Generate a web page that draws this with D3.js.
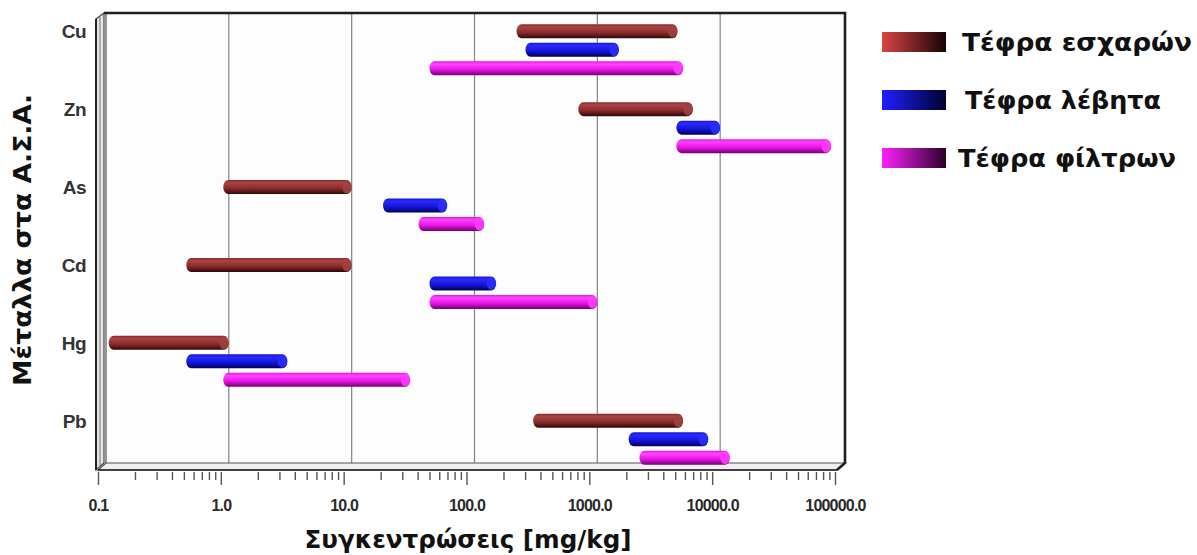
<!DOCTYPE html>
<html>
<head>
<meta charset="utf-8">
<script src="https://cdn.jsdelivr.net/npm/d3@7"></script>
<style>
  body { margin: 0; background: #fff; }
  svg { display: block; }
</style>
</head>
<body>
<script>
const metals = ["Cu", "Zn", "As", "Cd", "Hg", "Pb"];
const series = ["Τέφρα εσχαρών", "Τέφρα λέβητα", "Τέφρα φίλτρων"];

// [min, max] mg/kg per metal
const grateAsh  = [[220, 4500], [700, 6000], [0.9, 10], [0.45, 10], [0.105, 1], [300, 5000]];
const boilerAsh = [[260, 1500], [4400, 10000], [18, 60], [43, 150], [0.45, 3], [1800, 8000]];
const filterAsh = [[43, 5000], [4400, 80000], [35, 120], [43, 1000], [0.9, 30], [2200, 12000]];

const tickValues = [0.1, 1, 10, 100, 1000, 10000, 100000];

const W = 1197, H = 555;
const depth = {dx: 8, dy: 7};
const plot = {left: 98, right: 837, top: 13, bottom: 470};

const svg = d3.select("body").append("svg").attr("width", W).attr("height", H);
const defs = svg.append("defs");

const colors = [
  {top: "#a84444", mid: "#8a2a2a", bot: "#2e0808", cap: "#a04040", l0: "#dc4444", l1: "#140404"},
  {top: "#2a2aff", mid: "#1414d8", bot: "#00005a", cap: "#2c2cff", l0: "#2020ff", l1: "#000030"},
  {top: "#ff44ff", mid: "#e614e6", bot: "#700070", cap: "#ff3cff", l0: "#ff20ff", l1: "#2a0028"}
];

colors.forEach((c, i) => {
  const g = defs.append("linearGradient").attr("id", "bar" + i)
    .attr("x1", 0).attr("y1", 0).attr("x2", 0).attr("y2", 1);
  g.append("stop").attr("offset", "0").attr("stop-color", c.mid);
  g.append("stop").attr("offset", "0.2").attr("stop-color", c.top);
  g.append("stop").attr("offset", "0.6").attr("stop-color", c.mid);
  g.append("stop").attr("offset", "1").attr("stop-color", c.bot);
  const l = defs.append("linearGradient").attr("id", "leg" + i)
    .attr("x1", 0).attr("y1", 0).attr("x2", 1).attr("y2", 0);
  l.append("stop").attr("offset", "0").attr("stop-color", c.l0);
  l.append("stop").attr("offset", "1").attr("stop-color", c.l1);
});

// front scale (axis) and back-plane scale (bars, grid)
const xFront = d3.scaleLog().domain([0.1, 100000]).range([plot.left, plot.right - depth.dx + 6]);
const xBack = d3.scaleLog().domain([0.1, 100000]).range([plot.left + depth.dx, plot.right + 6]);

const backTop = plot.top, backBottom = plot.bottom - depth.dy;
const backLeft = plot.left + depth.dx, backRight = plot.right + 8;

const y = d3.scaleBand().domain(metals).range([12, 12 + 6 * 77.9]);
const ySub = d3.scaleBand().domain(series).range([10, 65.5]);
const barH = 14;

// back wall
svg.append("rect").attr("x", backLeft).attr("y", backTop)
  .attr("width", backRight - backLeft).attr("height", backBottom - backTop)
  .attr("fill", "#fdfdfd");

// grid on back wall + floor diagonals
const grid = svg.append("g").attr("stroke", "#858585").attr("stroke-width", 1.2).attr("fill", "none");
tickValues.slice(1, -1).forEach(v => {
  grid.append("path")
    .attr("d", `M${xBack(v)},${backTop}V${backBottom}L${xFront(v)},${plot.bottom}`);
});

// floor slab
svg.append("path")
  .attr("d", `M${backLeft},${backBottom}H${backRight}L${backRight - depth.dx},${plot.bottom}H${plot.left}Z`)
  .attr("fill", "#efefef").attr("stroke", "#555").attr("stroke-width", 1.2);
svg.append("line")
  .attr("x1", plot.left).attr("x2", backRight - depth.dx)
  .attr("y1", plot.bottom).attr("y2", plot.bottom)
  .attr("stroke", "#222").attr("stroke-width", 1.6);

// left wall slab
svg.append("path")
  .attr("d", `M${plot.left - 2},${backTop + 6}L${backLeft - 2},${backTop}V${backBottom}L${plot.left - 2},${plot.bottom}Z`)
  .attr("fill", "#e6e6e6").attr("stroke", "#444").attr("stroke-width", 1.2);
svg.append("line")
  .attr("x1", plot.left - 2).attr("x2", plot.left - 2)
  .attr("y1", backTop + 6).attr("y2", plot.bottom)
  .attr("stroke", "#222").attr("stroke-width", 2);
svg.append("line")
  .attr("x1", plot.left + 2).attr("x2", plot.left + 2)
  .attr("y1", backTop + 4).attr("y2", plot.bottom - 2)
  .attr("stroke", "#777").attr("stroke-width", 1);
svg.append("line")
  .attr("x1", backLeft).attr("x2", backLeft)
  .attr("y1", backTop).attr("y2", backBottom)
  .attr("stroke", "#555").attr("stroke-width", 1.2);

// top and right edges of the box
svg.append("path")
  .attr("d", `M${backLeft - 2},${backTop}H${backRight}V${backBottom}L${backRight - depth.dx},${plot.bottom}`)
  .attr("fill", "none").attr("stroke", "#1e1e1e").attr("stroke-width", 2.6);

// bars
const allSeries = [grateAsh, boilerAsh, filterAsh];
const bars = svg.append("g");
allSeries.forEach((vals, si) => {
  const rows = metals.map((m, i) => ({m, lo: vals[i][0], hi: vals[i][1]}));
  const g = bars.append("g");
  g.selectAll("rect").data(rows).join("rect")
    .attr("x", d => xBack(d.lo))
    .attr("y", d => y(d.m) + ySub(series[si]) + (ySub.bandwidth() - barH) / 2)
    .attr("width", d => xBack(d.hi) - xBack(d.lo))
    .attr("height", barH)
    .attr("rx", 5).attr("ry", barH / 2)
    .attr("fill", `url(#bar${si})`);
  g.selectAll("ellipse").data(rows).join("ellipse")
    .attr("cx", d => xBack(d.hi) - 5)
    .attr("cy", d => y(d.m) + ySub(series[si]) + ySub.bandwidth() / 2)
    .attr("rx", 4.5).attr("ry", barH / 2 - 0.5)
    .attr("fill", colors[si].cap).attr("opacity", 0.9);
});

// x axis: minor and major ticks
const minor = [];
for (let e = -1; e < 5; e++) for (let k = 2; k <= 9; k++) minor.push(k * Math.pow(10, e));

svg.append("g").attr("transform", `translate(0,${plot.bottom + 2})`)
  .call(d3.axisBottom(xFront).tickValues(minor).tickSize(8).tickFormat(""))
  .call(g => g.select(".domain").remove())
  .call(g => g.selectAll("line").attr("stroke", "#555").attr("stroke-width", 1.4));

svg.append("g").attr("transform", `translate(0,${plot.bottom + 2})`)
  .call(d3.axisBottom(xFront).tickValues(tickValues).tickSize(13).tickPadding(15)
    .tickFormat(d3.format(".1f")))
  .call(g => g.select(".domain").remove())
  .call(g => g.selectAll("line").attr("stroke", "#555").attr("stroke-width", 1.4))
  .call(g => g.selectAll("text")
    .attr("font-family", "'Liberation Sans Narrow', 'Liberation Sans', Arial, sans-serif")
    .attr("font-weight", "bold").attr("font-size", 16).attr("fill", "#2a2a2a")
    .attr("letter-spacing", -0.8));

// category labels
svg.append("g").selectAll("text").data(metals).join("text")
  .attr("x", 86)
  .attr("y", d => y(d) + ySub(series[0]) + ySub.bandwidth() / 2)
  .attr("dy", "0.36em")
  .attr("text-anchor", "end")
  .attr("font-family", "'Liberation Sans', Arial, sans-serif")
  .attr("font-weight", "bold").attr("font-size", 19).attr("fill", "#333")
  .attr("letter-spacing", -0.5)
  .text(d => d);

// axis titles
svg.append("text")
  .attr("x", 468).attr("y", 548)
  .attr("text-anchor", "middle")
  .attr("font-family", "'DejaVu Sans', sans-serif")
  .attr("font-weight", "bold").attr("font-size", 25).attr("fill", "#111")
  .attr("textLength", 327).attr("lengthAdjust", "spacingAndGlyphs")
  .text("Συγκεντρώσεις [mg/kg]");

svg.append("text")
  .attr("transform", "translate(31,240) rotate(-90)")
  .attr("text-anchor", "middle")
  .attr("font-family", "'DejaVu Sans', sans-serif")
  .attr("font-weight", "bold").attr("font-size", 25).attr("fill", "#111")
  .attr("textLength", 292).attr("lengthAdjust", "spacingAndGlyphs")
  .text("Μέταλλα στα Α.Σ.Α.");

// legend
const legendWidths = [230, 196, 218];
const legendX = [962, 965, 958];
const legend = svg.append("g").selectAll("g").data(series).join("g")
  .attr("transform", (d, i) => `translate(882,${32 + i * 58})`);
legend.append("rect")
  .attr("width", 64).attr("height", 20)
  .attr("fill", (d, i) => `url(#leg${i})`);
legend.append("text")
  .attr("x", (d, i) => legendX[i] - 882).attr("y", 10).attr("dy", "0.36em")
  .attr("font-family", "'DejaVu Sans', sans-serif")
  .attr("font-weight", "bold").attr("font-size", 24).attr("fill", "#111")
  .attr("textLength", (d, i) => legendWidths[i]).attr("lengthAdjust", "spacingAndGlyphs")
  .text(d => d);
</script>
</body>
</html>
